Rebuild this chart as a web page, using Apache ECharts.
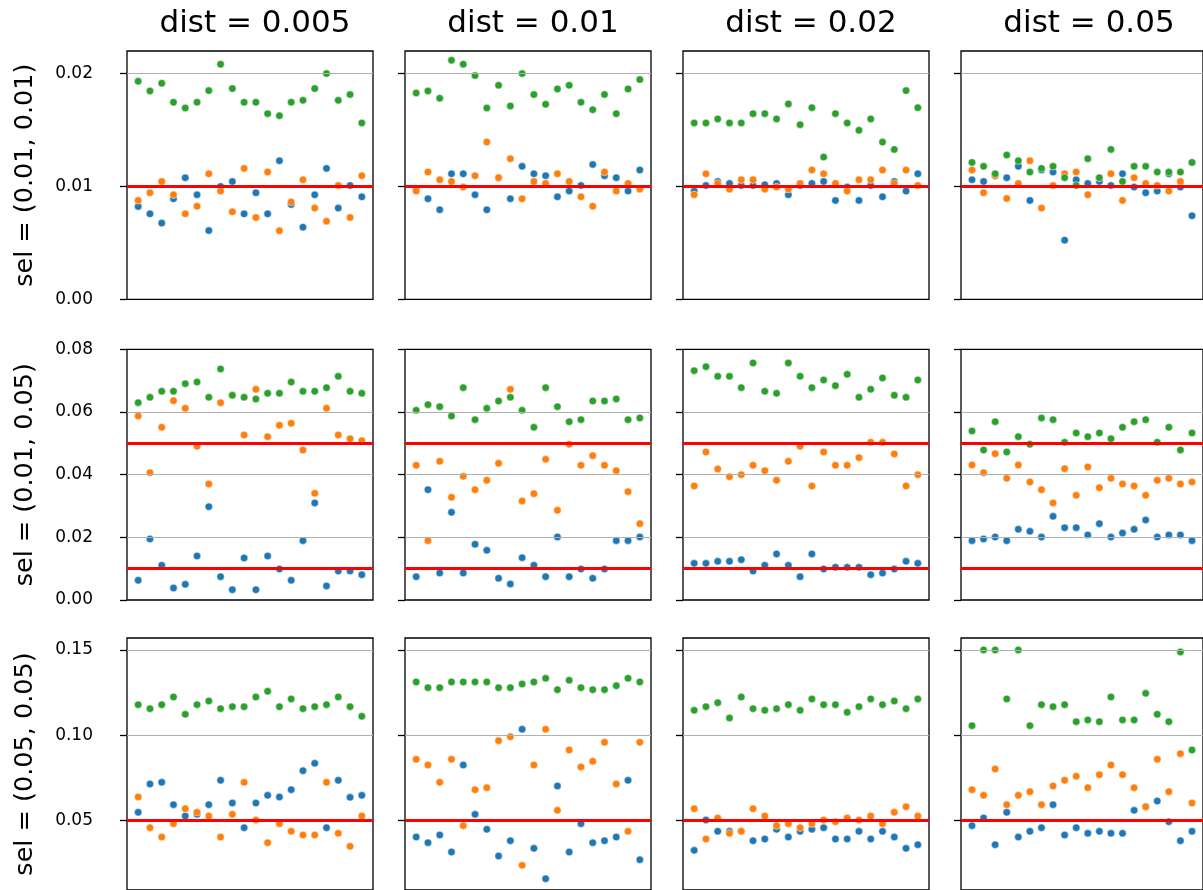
<!DOCTYPE html>
<html><head><meta charset="utf-8">
<script src="https://cdn.jsdelivr.net/npm/echarts@6/dist/echarts.min.js"></script>
<style>html,body{margin:0;padding:0;background:#fff}#c{width:1203px;height:890px}</style>
</head><body><div id="c"></div>
<script>
// ---------- data ----------
const colTitles = ['dist = 0.005', 'dist = 0.01', 'dist = 0.02', 'dist = 0.05'];
const rowLabels = ['sel = (0.01, 0.01)', 'sel = (0.01, 0.05)', 'sel = (0.05, 0.05)'];
const rowTicks = [[0.00, 0.01, 0.02], [0.00, 0.02, 0.04, 0.06, 0.08], [0.05, 0.10, 0.15]];
const trueValues = [[0.01], [0.01, 0.05], [0.05]];

const blueR1C1 = [0.00822,0.00757,0.00675,0.00891,0.01077,0.00926,0.00609,0.01000,0.01044,0.00757,0.00944,0.00757,0.01228,0.00840,0.00639,0.00926,0.01160,0.00808,0.01009,0.00908];
const orangeR1C1 = [0.00876,0.00944,0.01044,0.00926,0.00757,0.00825,0.01112,0.00959,0.00775,0.01160,0.00725,0.01127,0.00607,0.00861,0.01059,0.00808,0.00692,0.01009,0.00725,0.01095];
const greenR1C1 = [0.01932,0.01846,0.01914,0.01746,0.01695,0.01746,0.01849,0.02083,0.01867,0.01746,0.01746,0.01645,0.01627,0.01746,0.01763,0.01867,0.02000,0.01763,0.01814,0.01562];

const blueR1C2 = [0.00979,0.00891,0.00793,0.01112,0.01112,0.00926,0.00793,0.01077,0.00891,0.01178,0.01112,0.01095,0.00908,0.00959,0.01009,0.01195,0.01095,0.01077,0.00959,0.01145];
const orangeR1C2 = [0.00959,0.01127,0.01059,0.01044,0.00994,0.01095,0.01393,0.01077,0.01246,0.00891,0.01044,0.01027,0.01112,0.01044,0.00908,0.00825,0.01127,0.00959,0.01027,0.00976];
const greenR1C2 = [0.01828,0.01846,0.01781,0.02118,0.02083,0.01982,0.01695,0.01896,0.01713,0.02000,0.01814,0.01728,0.01864,0.01896,0.01746,0.01680,0.01814,0.01645,0.01864,0.01947];

const blueR1C3 = [0.00959,0.01009,0.01044,0.01027,0.01009,0.01009,0.01015,0.01027,0.00926,0.01009,0.01027,0.01044,0.00876,0.00994,0.00876,0.01009,0.00908,0.01044,0.00959,0.01112];
const orangeR1C3 = [0.00926,0.01112,0.01027,0.00976,0.01059,0.01059,0.00976,0.00994,0.00976,0.01027,0.01145,0.01112,0.01027,0.00959,0.01059,0.01059,0.01145,0.01027,0.01145,0.01009];
const greenR1C3 = [0.01562,0.01562,0.01598,0.01562,0.01562,0.01645,0.01645,0.01598,0.01731,0.01547,0.01698,0.01260,0.01645,0.01562,0.01497,0.01598,0.01393,0.01328,0.01849,0.01698];

const blueR1C4 = [0.01059,0.01044,0.01095,0.01077,0.01178,0.00876,0.01145,0.01127,0.00524,0.01059,0.01027,0.01044,0.01009,0.01112,0.00994,0.00944,0.00959,0.01112,0.00994,0.00740];
const orangeR1C4 = [0.01145,0.00944,0.01095,0.00893,0.01027,0.01228,0.00808,0.01009,0.01112,0.01127,0.00926,0.01077,0.01112,0.00876,0.01077,0.01027,0.01009,0.00959,0.01044,0.01213];
const greenR1C4 = [0.01213,0.01178,0.01112,0.01278,0.01228,0.01127,0.01160,0.01178,0.01077,0.01009,0.01246,0.01077,0.01328,0.01044,0.01178,0.01178,0.01127,0.01127,0.01127,0.01213];

const blueR2C1 = [0.00628,0.01947,0.01106,0.00383,0.00500,0.01404,0.02979,0.00745,0.00330,0.01340,0.00330,0.01404,0.00989,0.00628,0.01894,0.03096,0.00447,0.00926,0.00926,0.00809];
const orangeR2C1 = [0.05872,0.04064,0.05511,0.06362,0.06117,0.04904,0.03702,0.06298,0.06532,0.05266,0.06723,0.05213,0.05574,0.05638,0.04787,0.03404,0.06117,0.05266,0.05149,0.05085];
const greenR2C1 = [0.06298,0.06468,0.06660,0.06660,0.06904,0.06957,0.06468,0.07372,0.06532,0.06468,0.06415,0.06596,0.06596,0.06957,0.06660,0.06660,0.06777,0.07138,0.06660,0.06596];

const blueR2C2 = [0.00745,0.03521,0.00862,0.02798,0.00862,0.01777,0.01585,0.00691,0.00511,0.01351,0.01106,0.00745,0.02010,0.00745,0.00989,0.00691,0.00989,0.01894,0.01894,0.02010];
const orangeR2C2 = [0.04298,0.01894,0.04426,0.03277,0.03947,0.03521,0.03819,0.04362,0.06723,0.03160,0.03394,0.04489,0.02862,0.04968,0.04298,0.04606,0.04298,0.04128,0.03457,0.02436];
const greenR2C2 = [0.06053,0.06234,0.06170,0.05872,0.06777,0.05755,0.06117,0.06351,0.06468,0.06053,0.05511,0.06777,0.06170,0.05691,0.05755,0.06351,0.06351,0.06415,0.05755,0.05809];

const blueR2C3 = [0.01170,0.01170,0.01234,0.01234,0.01287,0.00926,0.01106,0.01468,0.01106,0.00745,0.01468,0.00989,0.01043,0.01043,0.01043,0.00809,0.00862,0.00989,0.01234,0.01170];
const orangeR2C3 = [0.03638,0.04723,0.04181,0.03936,0.04000,0.04298,0.04128,0.03819,0.04426,0.04904,0.03638,0.04723,0.04298,0.04298,0.04543,0.05032,0.05032,0.04660,0.03638,0.04000];
const greenR2C3 = [0.07319,0.07447,0.07138,0.07138,0.06777,0.07564,0.06660,0.06596,0.07564,0.07138,0.06777,0.07021,0.06840,0.07202,0.06468,0.06723,0.07085,0.06532,0.06468,0.07021];

const blueR2C4 = [0.01894,0.01947,0.02010,0.01894,0.02255,0.02191,0.02010,0.02670,0.02309,0.02309,0.02074,0.02436,0.02010,0.02138,0.02255,0.02553,0.02010,0.02074,0.02074,0.01894];
const orangeR2C4 = [0.04309,0.04064,0.04670,0.03883,0.04309,0.03766,0.03521,0.03096,0.04191,0.03340,0.04245,0.03585,0.03883,0.03702,0.03638,0.03340,0.03819,0.03883,0.03702,0.03766];
const greenR2C4 = [0.05394,0.04787,0.05691,0.04723,0.05213,0.04968,0.05809,0.05755,0.05032,0.05330,0.05213,0.05330,0.05149,0.05511,0.05691,0.05755,0.05032,0.05511,0.04787,0.05330];

const blueR3C1 = [0.05488,0.07148,0.07246,0.05938,0.05273,0.05371,0.05938,0.07363,0.06035,0.04590,0.06035,0.06484,0.06387,0.06816,0.07930,0.08359,0.04590,0.07363,0.06367,0.06484];
const orangeR3C1 = [0.06387,0.04590,0.04043,0.04824,0.05703,0.05488,0.05273,0.04043,0.05371,0.07246,0.05039,0.03711,0.04824,0.04375,0.04160,0.04160,0.07246,0.04258,0.03496,0.05273];
const greenR3C1 = [0.11797,0.11563,0.11797,0.12246,0.11230,0.11797,0.12012,0.11563,0.11680,0.11680,0.12246,0.12578,0.11680,0.12129,0.11563,0.11680,0.11797,0.12246,0.11680,0.11113];

const blueR3C2 = [0.04043,0.03711,0.04160,0.03164,0.08262,0.05371,0.04492,0.02930,0.03828,0.10352,0.03379,0.01602,0.07031,0.03164,0.04824,0.03711,0.03828,0.04043,0.07363,0.02715];
const orangeR3C2 = [0.08594,0.08262,0.07246,0.08594,0.04707,0.06816,0.06934,0.09688,0.09922,0.02383,0.08262,0.10352,0.05605,0.09141,0.08145,0.08477,0.09590,0.07148,0.04375,0.09590];
const greenR3C2 = [0.13125,0.12793,0.12793,0.13125,0.13125,0.13125,0.13125,0.12793,0.12793,0.13008,0.13125,0.13340,0.12676,0.13223,0.12793,0.12676,0.12676,0.12910,0.13340,0.13125];

const blueR3C3 = [0.03262,0.05039,0.04375,0.04375,0.04375,0.03828,0.03926,0.04492,0.04043,0.04375,0.04492,0.04590,0.03926,0.03926,0.04375,0.03926,0.04375,0.04043,0.03379,0.03594];
const orangeR3C3 = [0.05703,0.03926,0.05156,0.04258,0.04375,0.05703,0.05273,0.04707,0.04824,0.04590,0.04824,0.05039,0.04941,0.05156,0.05039,0.05273,0.04824,0.05488,0.05820,0.05273];
const greenR3C3 = [0.11465,0.11680,0.11914,0.11016,0.12246,0.11563,0.11465,0.11563,0.11797,0.11465,0.12129,0.11797,0.11797,0.11348,0.11680,0.12129,0.11797,0.12012,0.11563,0.12129];

const blueR3C4 = [0.04707,0.05156,0.03594,0.05488,0.04043,0.04375,0.04590,0.05938,0.04160,0.04590,0.04258,0.04375,0.04258,0.04258,0.05605,0.05820,0.06152,0.04941,0.03828,0.04375];
const orangeR3C4 = [0.06816,0.06484,0.08027,0.05938,0.06484,0.06699,0.05938,0.07031,0.07363,0.07598,0.06934,0.07695,0.08262,0.07695,0.06934,0.05820,0.08594,0.06699,0.08926,0.06035];
const greenR3C4 = [0.10566,0.15000,0.15000,0.12129,0.15000,0.10566,0.11797,0.11680,0.11797,0.10801,0.10898,0.10801,0.12246,0.10898,0.10898,0.12461,0.11230,0.10801,0.14883,0.09141];

const panels = [
  [[blueR1C1, orangeR1C1, greenR1C1], [blueR1C2, orangeR1C2, greenR1C2], [blueR1C3, orangeR1C3, greenR1C3], [blueR1C4, orangeR1C4, greenR1C4]],
  [[blueR2C1, orangeR2C1, greenR2C1], [blueR2C2, orangeR2C2, greenR2C2], [blueR2C3, orangeR2C3, greenR2C3], [blueR2C4, orangeR2C4, greenR2C4]],
  [[blueR3C1, orangeR3C1, greenR3C1], [blueR3C2, orangeR3C2, greenR3C2], [blueR3C3, orangeR3C3, greenR3C3], [blueR3C4, orangeR3C4, greenR3C4]]
];

// ---------- layout / style ----------
const seriesColors = ['#1f77b4', '#ff7f0e', '#2ca02c'];
const gridLefts = [127, 405, 683, 961];
const gridWidth = 246;
const rowTops = [51, 349.3, 638];
const rowHeights = [248.3, 250.7, 252];
const rowMin = [0, 0, 0.0094];
const rowMax = [0.022, 0.08, 0.157];
const FONT = 'DejaVu Sans';

const grid = [], xAxis = [], yAxis = [], series = [], title = [];
colTitles.forEach((t, c) => {
  title.push({
    text: t, left: gridLefts[c] + gridWidth / 2, top: 3, textAlign: 'center',
    textStyle: { fontFamily: FONT, fontSize: 31, fontWeight: 'normal', color: '#000' }
  });
});

for (let r = 0; r < 3; r++) {
  for (let c = 0; c < 4; c++) {
    const idx = r * 4 + c;
    grid.push({
      left: gridLefts[c], top: rowTops[r], width: gridWidth, height: rowHeights[r],
      show: true, borderColor: '#000', borderWidth: 1.3, backgroundColor: '#fff'
    });
    xAxis.push({ type: 'value', gridIndex: idx, min: -0.95, max: 19.95, show: false,
      axisLine: { show: false, onZero: false } });
    yAxis.push({
      type: 'value', gridIndex: idx, min: rowMin[r], max: rowMax[r],
      axisLine: { show: false, onZero: false },
      axisTick: { show: true, inside: false, length: 7, customValues: rowTicks[r], lineStyle: { color: '#000', width: 1.3 } },
      axisLabel: {
        show: c === 0, customValues: rowTicks[r], margin: 34,
        formatter: v => v.toFixed(2),
        fontFamily: FONT, fontSize: 17, color: '#000'
      },
      splitLine: { show: false },
      name: c === 0 ? rowLabels[r] : '',
      nameLocation: 'middle', nameRotate: 90, nameGap: 89,
      nameTextStyle: { fontFamily: FONT, fontSize: 25.5, color: '#000' }
    });
    // horizontal grid lines at the inner tick values
    series.push({
      type: 'scatter', xAxisIndex: idx, yAxisIndex: idx, data: [], z: 1, silent: true,
      markLine: {
        silent: true, symbol: ['none', 'none'], label: { show: false },
        lineStyle: { color: '#b0b0b0', width: 1, type: 'solid' },
        emphasis: { disabled: true },
        data: rowTicks[r].filter(v => v > rowMin[r] + 1e-9 && v < rowMax[r] - 1e-9).map(v => ({ yAxis: v }))
      }
    });
    panels[r][c].forEach((arr, k) => {
      series.push({
        type: 'scatter', xAxisIndex: idx, yAxisIndex: idx, z: 2 + k * 0.01,
        symbol: 'circle', symbolSize: 7.5,
        itemStyle: { color: seriesColors[k], borderColor: '#fff', borderWidth: 0.5, opacity: 1 },
        emphasis: { disabled: true },
        data: arr.map((v, i) => [i, v])
      });
    });
    // true-value red lines
    series.push({
      type: 'scatter', xAxisIndex: idx, yAxisIndex: idx, data: [], z: 3, silent: true,
      markLine: {
        silent: true, symbol: ['none', 'none'], label: { show: false },
        lineStyle: { color: '#ff0000', width: 3, type: 'solid' },
        emphasis: { disabled: true },
        data: trueValues[r].map(v => ({ yAxis: v }))
      }
    });
  }
}

const chart = echarts.init(document.getElementById('c'), null, { renderer: 'canvas' });
chart.setOption({ animation: false, backgroundColor: '#fff', title, grid, xAxis, yAxis, series, tooltip: { show: false } });
</script></body></html>
